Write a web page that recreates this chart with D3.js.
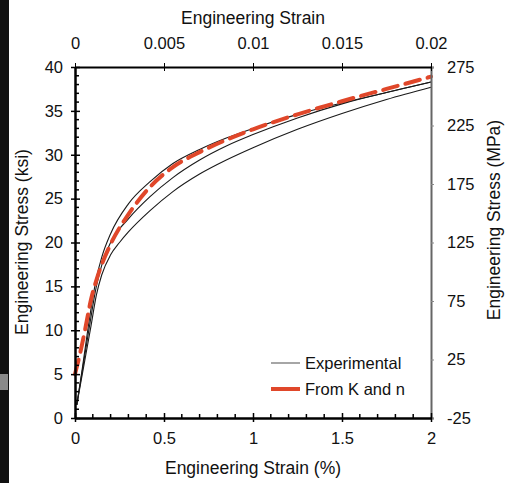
<!DOCTYPE html>
<html>
<head>
<meta charset="utf-8">
<script src="https://cdn.jsdelivr.net/npm/d3@7"></script>
<style>
  body { margin: 0; background: #fff; }
  text { font-family: "Liberation Sans", Arial, sans-serif; fill: #111; }
</style>
</head>
<body>
<div id="chart"></div>
<script>
// strain in %, stress in ksi
const strainA = [0.01, 0.04, 0.07, 0.1, 0.12, 0.15, 0.2, 0.3, 0.42, 0.55, 0.7, 0.85, 1.0, 1.25, 1.5, 1.75, 2.0];
const stressA = [1.5, 5.5, 9.8, 13.7, 15.9, 18.3, 21.0, 24.4, 26.9, 29.0, 30.6, 31.9, 33.0, 34.6, 35.9, 37.1, 38.3];

const strainB = [0.01, 0.05, 0.08, 0.12, 0.15, 0.2, 0.3, 0.42, 0.55, 0.7, 0.85, 1.0, 1.25, 1.5, 1.75, 2.0];
const stressB = [1.5, 6.5, 10.3, 15.0, 17.4, 20.0, 22.7, 25.2, 27.4, 29.4, 31.0, 32.3, 34.2, 35.8, 37.1, 38.3];

const strainC = [0.01, 0.05, 0.09, 0.12, 0.15, 0.2, 0.25, 0.3, 0.42, 0.55, 0.7, 0.85, 1.0, 1.25, 1.5, 1.75, 2.0];
const stressC = [1.5, 6.0, 10.5, 14.0, 16.3, 18.6, 20.0, 21.2, 23.6, 25.8, 27.8, 29.4, 30.8, 32.9, 34.7, 36.3, 37.7];

const strainKn = [0, 0.03, 0.056, 0.09, 0.12, 0.2, 0.3, 0.42, 0.55, 0.7, 0.85, 1.0, 1.25, 1.5, 1.75, 2.0];
const stressKn = [5.0, 7.5, 10, 13.5, 15.7, 19.8, 23.2, 26.3, 28.6, 30.3, 31.7, 32.9, 34.6, 36.1, 37.5, 38.9];

const bottomTicks = [0, 0.5, 1, 1.5, 2];
const topTicks = [0, 0.005, 0.01, 0.015, 0.02];
const leftTicks = [0, 5, 10, 15, 20, 25, 30, 35, 40];
const rightTicks = [-25, 25, 75, 125, 175, 225, 275];

const W = 505, H = 483;
const plot = { left: 75, right: 431, top: 67, bottom: 418 };
const tickFont = 16.5, titleFont = 17.5;

const svg = d3.select("#chart").append("svg")
    .attr("width", W).attr("height", H);

// dark strip on the left edge of the screenshot
svg.append("rect").attr("x", 0).attr("y", 0).attr("width", 9).attr("height", H).attr("fill", "#111");
svg.append("rect").attr("x", 0).attr("y", 374).attr("width", 8).attr("height", 16).attr("fill", "#8a8a8a");

const x = d3.scaleLinear().domain([0, 2]).range([plot.left, plot.right]);
const xTop = d3.scaleLinear().domain([0, 0.02]).range([plot.left, plot.right]);
const y = d3.scaleLinear().domain([0, 40]).range([plot.bottom, plot.top]);
const yR = d3.scaleLinear().domain([-25, 275]).range([plot.bottom, plot.top]);

const line = d3.line()
    .x(d => x(d[0]))
    .y(d => y(d[1]))
    .curve(d3.curveMonotoneX);

const zip = (a, b) => a.map((v, i) => [v, b[i]]);

// experimental curves
[[strainA, stressA], [strainB, stressB], [strainC, stressC]].forEach(s => {
    svg.append("path")
        .datum(zip(s[0], s[1]))
        .attr("d", line)
        .attr("fill", "none")
        .attr("stroke", "#1a1a1a")
        .attr("stroke-width", 1.1);
});

// K and n fit
svg.append("path")
    .datum(zip(strainKn, stressKn))
    .attr("d", line)
    .attr("fill", "none")
    .attr("stroke", "#e0472a")
    .attr("stroke-width", 4)
    .attr("stroke-dasharray", "15,8")
    .attr("stroke-linecap", "round");

// right axis (grey)
const rightAxis = d3.axisRight(yR).tickValues(rightTicks).tickFormat(d => String(d)).tickSize(3);
const gR = svg.append("g").attr("transform", `translate(${plot.right},0)`).call(rightAxis);
gR.select(".domain").attr("stroke", "#666").attr("stroke-width", 2);
gR.selectAll(".tick line").attr("stroke", "#888");
gR.selectAll(".tick text").attr("x", 16).attr("font-size", tickFont).attr("fill", "#111").attr("font-family", "Liberation Sans, Arial");

// left axis
const leftAxis = d3.axisLeft(y).tickValues(leftTicks).tickSizeInner(4).tickSizeOuter(0);
const gL = svg.append("g").attr("transform", `translate(${plot.left},0)`).call(leftAxis);
gL.select(".domain").attr("stroke", "#000").attr("stroke-width", 2.5);
gL.selectAll(".tick line").attr("x2", -4).attr("x1", 5).attr("stroke", "#000").attr("stroke-width", 1.5);
gL.selectAll(".tick text").attr("x", -12).attr("font-size", tickFont).attr("fill", "#111").attr("font-family", "Liberation Sans, Arial");
gL.selectAll(".minor").data(d3.range(1, 40).filter(v => v % 5 !== 0))
    .enter().append("line")
    .attr("x1", 0).attr("x2", 4)
    .attr("y1", d => y(d)).attr("y2", d => y(d))
    .attr("stroke", "#000").attr("stroke-width", 1.5);

// bottom axis
const bottomAxis = d3.axisBottom(x).tickValues(bottomTicks).tickFormat(d3.format("")).tickSizeOuter(0).tickSizeInner(4);
const gB = svg.append("g").attr("transform", `translate(0,${plot.bottom})`).call(bottomAxis);
gB.select(".domain").attr("stroke", "#000").attr("stroke-width", 2.5);
gB.selectAll(".tick line").attr("y1", -5).attr("y2", 4).attr("stroke", "#000").attr("stroke-width", 1.5);
gB.selectAll(".tick text").attr("y", 26).attr("dy", 0).attr("font-size", tickFont).attr("fill", "#111").attr("font-family", "Liberation Sans, Arial");
gB.selectAll(".minor").data(d3.range(1, 20).filter(v => v % 5 !== 0).map(v => v / 10))
    .enter().append("line")
    .attr("x1", d => x(d)).attr("x2", d => x(d))
    .attr("y1", 0).attr("y2", -4)
    .attr("stroke", "#000").attr("stroke-width", 1.5);

// top axis
const topAxis = d3.axisTop(xTop).tickValues(topTicks).tickFormat(d3.format("")).tickSizeOuter(0).tickSizeInner(4);
const gT = svg.append("g").attr("transform", `translate(0,${plot.top})`).call(topAxis);
gT.select(".domain").attr("stroke", "#000").attr("stroke-width", 2);
gT.selectAll(".tick line").attr("y1", 4).attr("y2", -4).attr("stroke", "#000").attr("stroke-width", 1);
gT.selectAll(".tick text").attr("y", -18).attr("dy", 0).attr("font-size", tickFont).attr("fill", "#111").attr("font-family", "Liberation Sans, Arial");

// titles
svg.append("text").attr("x", 253).attr("y", 24).attr("text-anchor", "middle")
    .attr("font-size", titleFont).text("Engineering Strain");
svg.append("text").attr("x", 253).attr("y", 474).attr("text-anchor", "middle")
    .attr("font-size", titleFont).text("Engineering Strain (%)");
svg.append("text").attr("transform", "translate(28,242) rotate(-90)").attr("text-anchor", "middle")
    .attr("font-size", titleFont).text("Engineering Stress (ksi)");
svg.append("text").attr("transform", "translate(500,220) rotate(-90)").attr("text-anchor", "middle")
    .attr("font-size", titleFont).text("Engineering Stress (MPa)");

// legend
const legendItems = ["Experimental", "From K and n"];
const lg = svg.append("g").attr("transform", "translate(271,363)");
lg.append("line").attr("x1", 0).attr("x2", 29).attr("y1", 0).attr("y2", 0)
    .attr("stroke", "#888").attr("stroke-width", 1.5);
lg.append("line").attr("x1", 0).attr("x2", 29).attr("y1", 26).attr("y2", 26)
    .attr("stroke", "#e0472a").attr("stroke-width", 4);
lg.selectAll(".lt").data(legendItems).enter().append("text")
    .attr("x", 34).attr("y", (d, i) => i * 26 + 6)
    .attr("font-size", 16.5).text(d => d);
</script>
</body>
</html>
